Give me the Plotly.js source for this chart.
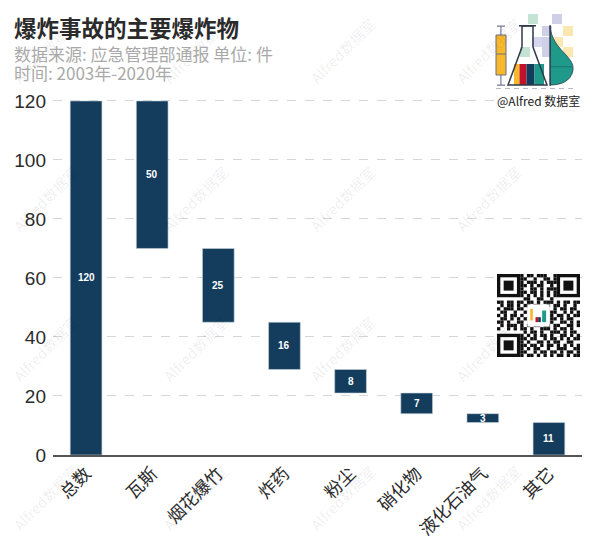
<!DOCTYPE html>
<html>
<head>
<meta charset="utf-8">
<script src="https://cdn.plot.ly/plotly-3.0.1.min.js"></script>
<style>html,body{margin:0;padding:0;background:#fff;}#chart{width:600px;height:547px;}</style>
</head>
<body>
<div id="chart"></div>
<script>
// ---- data ----
const categories = ['总数', '瓦斯', '烟花爆竹', '炸药', '粉尘', '硝化物', '液化石油气', '其它'];
const values = [120, 50, 25, 16, 8, 7, 3, 11];
const yTicks = [0, 20, 40, 60, 80, 100, 120];
const titleText = '爆炸事故的主要爆炸物';
const subtitleLines = ['数据来源: 应急管理部通报 单位: 件', '时间: 2003年-2020年'];
const watermarkText = 'Alfred数据室';
const brandText = '@Alfred 数据室';

// waterfall bases: first bar is the total, others step down from it
const bases = [];
let level = values[0];
values.forEach((v, i) => {
  if (i === 0) { bases.push(0); }
  else { level -= v; bases.push(level); }
});

// ---- layout geometry ----
const W = 600, H = 547;
const M = {l: 53, r: 18, t: 98, b: 92};
const pw = W - M.l - M.r, ph = H - M.t - M.b;
const px = x => (x - M.l) / pw;
const py = y => (H - M.b - y) / ph;

const CJK = '"Noto Sans CJK SC", "Noto Sans", sans-serif';
const barColor = '#133c5d';

const trace = {
  type: 'bar',
  x: categories,
  y: values,
  base: bases,
  width: 0.48,
  marker: {color: barColor, line: {color: '#c9d3dc', width: 0.6}},
  hoverinfo: 'skip'
};

const annotations = [];
// value labels in bar centers
values.forEach((v, i) => {
  annotations.push({
    x: categories[i], y: bases[i] + v / 2, xref: 'x', yref: 'y',
    xanchor: 'center', yanchor: 'middle',
    text: '<b>' + v + '</b>', showarrow: false,
    font: {family: '"Liberation Sans", Arial, sans-serif', size: 10, color: '#fff'}
  });
});
// watermarks
const wmX = [45, 195, 342, 488];
const wmY = [50, 198, 348, 497];
wmY.forEach(yy => wmX.forEach(xx => {
  annotations.push({xref: 'paper', yref: 'paper', x: px(xx), y: py(yy), xanchor: 'center', yanchor: 'middle',
    text: watermarkText, showarrow: false, textangle: -45,
    font: {family: CJK, size: 14.5, color: 'rgba(0,0,0,0.075)'}});
}));
// title + subtitles
annotations.push({xref: 'paper', yref: 'paper', x: px(12), y: py(9), xanchor: 'left', yanchor: 'top',
  text: '<b>' + titleText + '</b>', showarrow: false,
  font: {family: CJK, size: 22.5, color: '#2b2b2b'}});
subtitleLines.forEach((t, i) => {
  annotations.push({xref: 'paper', yref: 'paper', x: px(12), y: py(39 + i * 19), xanchor: 'left', yanchor: 'top',
    text: t, showarrow: false, font: {family: CJK, size: 17, color: '#a9a9a9'}});
});
// brand text
annotations.push({xref: 'paper', yref: 'paper', x: px(538), y: py(101), xanchor: 'center', yanchor: 'middle',
  text: brandText, showarrow: false, bgcolor: '#fff', borderpad: 1,
  font: {family: CJK, size: 12, color: '#222'}});

// ---- decorative logo & QR (pixel shapes) ----
const shapes = [];
function rect(x0, y0, x1, y1, fill, line, lw) {
  shapes.push({type: 'rect', xref: 'paper', yref: 'paper', x0: px(x0), x1: px(x1), y0: py(y1), y1: py(y0),
    fillcolor: fill, line: {color: line || 'rgba(0,0,0,0)', width: lw || 0}, layer: 'above'});
}
function path(d, fill, line, lw) {
  shapes.push({type: 'path', xref: 'paper', yref: 'paper', path: d, fillcolor: fill,
    line: {color: line || 'rgba(0,0,0,0)', width: lw || 0}, layer: 'above'});
}
function P(x, y) { return px(x) + ',' + py(y); }
// checker squares behind logo
[[528,14,'#c4e3d2'],[552,14,'#cfcfe8'],[542,26,'#cfcfe8'],[563,26,'#fbe7b0'],[532,37,'#d6d6ee'],
 [542,37,'#cfcfe8'],[553,37,'#fbe7b0'],[520,47,'#c4e3d2'],[542,47,'#cfcfe8'],[563,47,'#fbe7b0'],[553,56,'#d6d6ee']]
 .forEach(s => rect(s[0], s[1], s[0] + 10, s[1] + 10, s[2]));
// boxplot
rect(500.3, 26, 501.5, 85, '#7a7a99');
rect(497, 25.5, 505, 26.8, '#7a7a99');
rect(497, 84.5, 505, 85.8, '#7a7a99');
rect(496, 35, 506, 75, '#f7b92a', '#6d6d8a', 1);
rect(496, 53.5, 506, 54.5, '#6d6d8a');
// flask content bars
rect(514, 64, 519.5, 85, '#f7b92a');
rect(519.5, 64, 526.5, 85, '#c0122a');
rect(526.5, 64, 534.5, 85, '#133c5d');
rect(534.5, 64, 544, 85, '#1f9a8a');
// flask outline
path('M' + P(522, 26) + 'L' + P(522, 47) + 'L' + P(508, 85) + 'L' + P(547, 85) + 'L' + P(533, 47) + 'L' + P(533, 26) + 'Z',
  'rgba(0,0,0,0)', '#2f3a4a', 1.5);
rect(519, 25, 536, 26.5, '#2f3a4a');
// half violin
path('M' + P(550, 26) + 'C' + P(552, 50) + ' ' + P(575, 56) + ' ' + P(573, 70) + 'C' + P(571, 82) + ' ' + P(560, 85) + ' ' + P(550, 85) + 'Z',
  '#1f9a8a', '#2f3a4a', 0.8);
rect(549.5, 25, 550.7, 86, '#2f3a4a');
rect(550, 66.5, 572, 67.2, '#14665c');
// tiny axis labels under logo
[496, 505, 514, 523, 532, 541, 550, 559, 568].forEach(x => rect(x, 88, x + 5, 89, '#b8b8c8'));
rect(505, 110, 575, 110.7, '#ececec');

// QR code: finder patterns + module blocks
const qx = 497, qy = 274, qs = 83, m = qs / 25;
function finder(cx, cy) {
  rect(cx, cy, cx + 7 * m, cy + 7 * m, '#111');
  rect(cx + m, cy + m, cx + 6 * m, cy + 6 * m, '#fff');
  rect(cx + 2 * m, cy + 2 * m, cx + 5 * m, cy + 5 * m, '#111');
}
finder(qx, qy); finder(qx + 18 * m, qy); finder(qx, qy + 18 * m);
const qrRows = [
  '.......x.xx.xxx..x.......',
  '.......xx..x..xx.x.......',
  '.......x.xxx.x.xxx.......',
  '.......xx.x.xx..x........',
  '.......x..xx.x.xxx.......',
  '.......xx.xx.x.x.x.......',
  '.......x.x.x.x.x.x.......',
  '........xx..xx..x........',
  'xx.xx.xx.xx.x.xxx.x.xx.xx',
  '.x.xx.x.xx.xx..x.xx.x..x.',
  'x.xxx.xx.........x.xx.xx.',
  '.xx..x..x.......xx..x.x.x',
  'x.x.xx.x........x.xx.x.xx',
  '.xx.x.x.x.......xx.x.xx..',
  'xx.x..xx........x..xx.x.x',
  '.x.xxx.x.x.xx.xx.xx..xx.x',
  'x..x.x.xx.x..xxx.x.xx.x..',
  '........x.xx.x..xxx.x.xx.',
  '.......x.x.x.xx.x..xx.x.x',
  '.......xx.xx..x.xx.x.x.xx',
  '.......x.x..xx.x.xx..xx..',
  '.......xx.xx.x.xx.x.x.x.x',
  '.......x.x.xx..x..xxx..xx',
  '.......xx..x.xx.xx.x.xx.x',
  '.......x.xx.x.x.x.xx.x.xx'
];
qrRows.forEach((row, r) => {
  for (let c = 0; c < row.length; c++) {
    if (row[c] === 'x') rect(qx + c * m, qy + r * m, qx + (c + 1) * m, qy + (r + 1) * m, '#111');
  }
});
// center logo of QR
rect(qx + 9.2 * m, qy + 9.2 * m, qx + 15.8 * m, qy + 15.8 * m, '#fff', '#ddd', 0.5);
rect(qx + 10 * m, qy + 10.5 * m, qx + 10.8 * m, qy + 14 * m, '#f7b92a');
rect(qx + 11.6 * m, qy + 13 * m, qx + 12.4 * m, qy + 14.5 * m, '#c0122a');
rect(qx + 12.4 * m, qy + 13 * m, qx + 13.2 * m, qy + 14.5 * m, '#133c5d');
rect(qx + 13.6 * m, qy + 11 * m, qx + 14.8 * m, qy + 14.5 * m, '#1f9a8a');

const layout = {
  width: W, height: H,
  margin: M,
  paper_bgcolor: '#fff', plot_bgcolor: '#fff',
  showlegend: false,
  bargap: 0.5,
  xaxis: {
    type: 'category', range: [-0.5, 7.5],
    tickangle: -45, ticks: '',
    tickfont: {family: CJK, size: 17.5, color: '#2b2b2b'},
    showline: true, linecolor: '#555', linewidth: 1.5,
    showgrid: false, zeroline: false, fixedrange: true
  },
  yaxis: {
    range: [0, 121],
    tickvals: yTicks, ticktext: yTicks.map(String),
    ticks: '', ticklabelstandoff: 6,
    tickfont: {family: '"Liberation Sans", Arial, sans-serif', size: 19, color: '#2b2b2b'},
    showgrid: true, gridcolor: '#d6d6d6', gridwidth: 1, griddash: 'dash',
    zeroline: false, showline: false, fixedrange: true
  },
  annotations: annotations,
  shapes: shapes
};

Plotly.newPlot('chart', [trace], layout, {displayModeBar: false, staticPlot: true});
</script>
</body>
</html>
